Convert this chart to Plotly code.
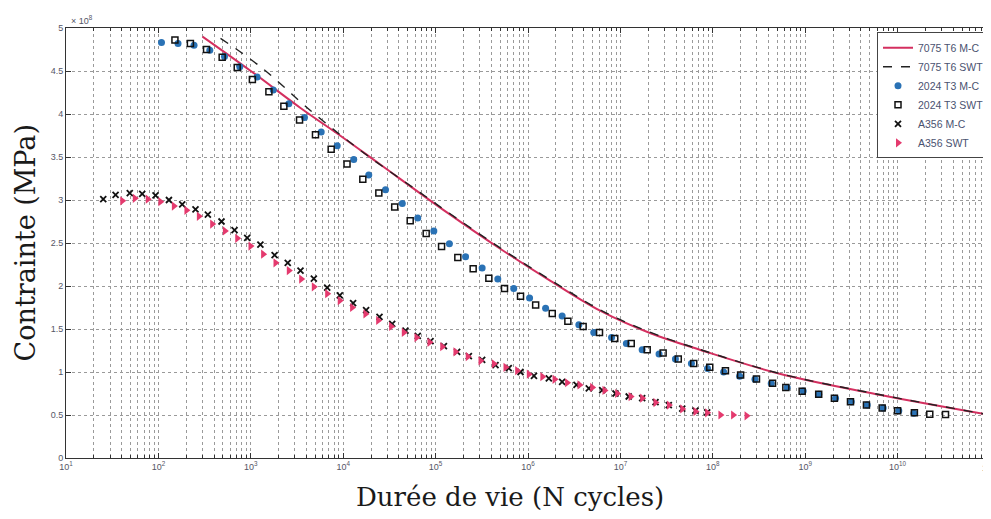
import plotly.graph_objects as go

# ---------------- data (stress in units of 1e8, N in cycles) ----------------
n_7075_mc = [3.0e2, 1.0e3, 3.45e3, 9.82e3, 2.54e4, 1.35e5, 5.05e5, 1.75e6, 6.10e6,
             2.12e7, 7.36e7, 5.41e8, 6.55e9, 1.0e11]
s_7075_mc = [4.90, 4.50, 4.07, 3.73, 3.41, 2.85, 2.43, 2.06, 1.71,
             1.45, 1.256, 0.977, 0.733, 0.50]

n_7075_swt = [4.70e2, 1.27e3, 4.78e3, 1.66e4, 5.77e4, 1.35e5, 5.05e5, 1.75e6, 6.10e6,
              2.12e7, 7.36e7, 5.41e8, 6.55e9, 1.0e11]
s_7075_swt = [4.88, 4.55, 4.01, 3.55, 3.14, 2.86, 2.44, 2.07, 1.72,
              1.46, 1.26, 0.98, 0.735, 0.50]

n_2024_mc = [1.08e2, 1.63e2, 2.43e2, 3.60e2, 5.19e2, 7.60e2, 1.17e3, 1.75e3, 2.58e3, 3.81e3,
             5.78e3, 8.61e3, 1.30e4, 1.89e4, 2.87e4, 4.36e4, 6.41e4, 9.57e4, 1.41e5, 2.11e5,
             3.19e5, 4.71e5, 7.01e5, 1.04e6, 1.55e6, 2.34e6, 3.55e6, 5.15e6, 8.02e6, 1.16e7,
             1.72e7, 2.62e7, 3.94e7, 5.87e7, 8.77e7, 1.31e8, 1.95e8, 2.86e8, 4.29e8, 6.38e8,
             9.51e8, 1.40e9, 2.13e9, 3.15e9, 4.69e9, 6.98e9, 1.03e10, 1.50e10]
s_2024_mc = [4.83, 4.82, 4.80, 4.74, 4.67, 4.55, 4.43, 4.28, 4.12, 3.96,
             3.79, 3.63, 3.47, 3.29, 3.12, 2.96, 2.79, 2.64, 2.49, 2.34,
             2.21, 2.08, 1.97, 1.86, 1.74, 1.65, 1.55, 1.46, 1.40, 1.33,
             1.26, 1.21, 1.15, 1.10, 1.04, 1.00, 0.95, 0.915, 0.865, 0.82,
             0.78, 0.74, 0.695, 0.655, 0.615, 0.58, 0.55, 0.52]

n_2024_swt = [1.51e2, 2.22e2, 3.32e2, 4.90e2, 7.13e2, 1.04e3, 1.57e3, 2.28e3, 3.37e3, 5.01e3,
              7.41e3, 1.10e4, 1.63e4, 2.43e4, 3.61e4, 5.31e4, 7.91e4, 1.16e5, 1.74e5, 2.55e5,
              3.77e5, 5.57e5, 8.30e5, 1.21e6, 1.83e6, 2.70e6, 3.95e6, 5.94e6, 8.69e6, 1.31e7,
              1.95e7, 2.90e7, 4.23e7, 6.22e7, 9.27e7, 1.37e8, 2.00e8, 2.97e8, 4.43e8, 6.17e8,
              9.27e8, 1.40e9, 2.07e9, 3.09e9, 4.60e9, 6.81e9, 1.00e10, 1.52e10, 2.23e10, 3.30e10]
s_2024_swt = [4.86, 4.82, 4.75, 4.66, 4.54, 4.40, 4.26, 4.09, 3.93, 3.76,
              3.59, 3.42, 3.24, 3.08, 2.92, 2.76, 2.61, 2.46, 2.33, 2.20,
              2.09, 1.97, 1.88, 1.78, 1.68, 1.59, 1.53, 1.46, 1.39, 1.33,
              1.26, 1.22, 1.15, 1.10, 1.055, 1.015, 0.965, 0.92, 0.87, 0.82,
              0.775, 0.74, 0.695, 0.655, 0.615, 0.58, 0.55, 0.525, 0.51, 0.505]

n_a356_mc = [2.53e1, 3.44e1, 4.90e1, 6.68e1, 9.31e1, 1.30e2, 1.81e2, 2.52e2, 3.43e2, 4.82e2,
             6.67e2, 9.14e2, 1.27e3, 1.81e3, 2.51e3, 3.45e3, 4.81e3, 6.71e3, 9.18e3, 1.28e4,
             1.77e4, 2.47e4, 3.39e4, 4.72e4, 6.41e4, 8.81e4, 1.23e5, 1.71e5, 2.29e5, 3.19e5,
             4.45e5, 6.19e5, 8.30e5, 1.16e6, 1.68e6, 2.34e6, 3.35e6, 4.55e6, 6.35e6, 8.85e6,
             1.23e7, 1.72e7, 2.40e7, 3.34e7, 4.67e7, 6.49e7, 8.69e7]
s_a356_mc = [3.01, 3.06, 3.08, 3.07, 3.055, 3.00, 2.95, 2.89, 2.83, 2.75,
             2.65, 2.56, 2.48, 2.36, 2.27, 2.18, 2.085, 1.98, 1.89, 1.80,
             1.72, 1.64, 1.56, 1.48, 1.42, 1.36, 1.30, 1.235, 1.185, 1.14,
             1.08, 1.045, 1.00, 0.955, 0.925, 0.885, 0.85, 0.81, 0.79, 0.75,
             0.715, 0.695, 0.65, 0.615, 0.575, 0.55, 0.53]

n_a356_swt = [4.06e1, 5.56e1, 7.67e1, 1.05e2, 1.47e2, 2.01e2, 2.74e2, 3.82e2, 5.24e2, 7.13e2,
              9.93e2, 1.36e3, 1.85e3, 2.58e3, 3.51e3, 4.81e3, 6.71e3, 9.18e3, 1.25e4, 1.74e4,
              2.39e4, 3.30e4, 4.53e4, 6.21e4, 8.59e4, 1.18e5, 1.64e5, 2.23e5, 3.06e5, 4.27e5,
              5.71e5, 7.64e5, 1.02e6, 1.43e6, 1.94e6, 2.65e6, 3.61e6, 4.95e6, 6.73e6, 9.23e6,
              1.29e7, 1.72e7, 2.40e7, 3.35e7, 4.67e7, 6.50e7, 8.69e7, 1.21e8, 1.66e8, 2.32e8]
s_a356_swt = [2.99, 3.02, 3.01, 2.98, 2.93, 2.88, 2.81, 2.72, 2.64, 2.555,
              2.465, 2.37, 2.27, 2.18, 2.08, 1.99, 1.91, 1.83, 1.75, 1.675,
              1.60, 1.53, 1.46, 1.40, 1.345, 1.295, 1.235, 1.18, 1.13, 1.095,
              1.055, 1.015, 0.975, 0.945, 0.915, 0.875, 0.85, 0.82, 0.785, 0.75,
              0.715, 0.695, 0.645, 0.615, 0.57, 0.54, 0.525, 0.50, 0.50, 0.49]

x_tick_vals = [1e1, 1e2, 1e3, 1e4, 1e5, 1e6, 1e7, 1e8, 1e9, 1e10, 1e11]
x_tick_text = ["10<sup>1</sup>", "10<sup>2</sup>", "10<sup>3</sup>", "10<sup>4</sup>",
               "10<sup>5</sup>", "10<sup>6</sup>", "10<sup>7</sup>", "10<sup>8</sup>",
               "10<sup>9</sup>", "10<sup>10</sup>", "10<sup>11</sup>"]
y_tick_vals = [0, 0.5, 1, 1.5, 2, 2.5, 3, 3.5, 4, 4.5, 5]
y_tick_text = ["0", "0.5", "1", "1.5", "2", "2.5", "3", "3.5", "4", "4.5", "5"]

# ---------------- figure ----------------
RED = "#d42f5f"
BLUE = "#2a72b5"
PINK = "#e43a6e"

fig = go.Figure()
fig.add_trace(go.Scatter(x=n_7075_mc, y=s_7075_mc, mode="lines", name="7075 T6 M-C",
                         line=dict(color=RED, width=2, shape="spline")))
fig.add_trace(go.Scatter(x=n_7075_swt, y=s_7075_swt, mode="lines", name="7075 T6 SWT",
                         line=dict(color="#222222", width=1.4, dash="dash", shape="spline")))
fig.add_trace(go.Scatter(x=n_2024_mc, y=s_2024_mc, mode="markers", name="2024 T3 M-C",
                         marker=dict(symbol="circle", size=7, color=BLUE)))
fig.add_trace(go.Scatter(x=n_2024_swt, y=s_2024_swt, mode="markers", name="2024 T3 SWT",
                         marker=dict(symbol="square-open", size=6, color="#111111",
                                     line=dict(width=1.5, color="#111111"))))
fig.add_trace(go.Scatter(x=n_a356_mc, y=s_a356_mc, mode="markers", name="A356 M-C",
                         marker=dict(symbol="x-thin-open", size=6, color="#111111",
                                     line=dict(width=1.8, color="#111111"))))
fig.add_trace(go.Scatter(x=n_a356_swt, y=s_a356_swt, mode="markers", name="A356 SWT",
                         marker=dict(symbol="triangle-right", size=8, color=PINK)))

grid_col = "#9a9a9a"
tick_font = dict(family="Liberation Sans", size=9, color="#556")
fig.update_xaxes(
    type="log", range=[1, 11],
    tickvals=x_tick_vals, ticktext=x_tick_text,
    ticks="inside", ticklen=5, tickcolor="#333",
    showline=True, linecolor="#333", linewidth=1, mirror="ticks",
    showgrid=True, gridcolor=grid_col, griddash="dot", gridwidth=1,
    tickfont=tick_font,
    minor=dict(dtick="D1", showgrid=True, gridcolor=grid_col, griddash="dot",
               gridwidth=1, ticks="inside", ticklen=3, tickcolor="#333"),
    zeroline=False,
)
fig.update_yaxes(
    range=[0, 5], tickvals=y_tick_vals, ticktext=y_tick_text,
    ticks="inside", ticklen=5, tickcolor="#333",
    showline=True, linecolor="#333", linewidth=1, mirror="ticks",
    showgrid=True, gridcolor=grid_col, griddash="dot", gridwidth=1,
    tickfont=tick_font,
    zeroline=False,
)

# page has an 8px body margin, so the figure is sized to fit the 991x519 window
fig.update_layout(
    width=983, height=511,
    margin=dict(l=58, r=1, t=20, b=61),
    paper_bgcolor="white", plot_bgcolor="white",
    showlegend=True,
    legend=dict(x=1.0, y=0.99, xanchor="right", yanchor="top",
                bgcolor="white", bordercolor="#444", borderwidth=1,
                font=dict(family="Liberation Sans", size=10.5, color="#4a5270"),
                tracegroupgap=0, itemwidth=30),
    annotations=[
        dict(text="× 10<sup>8</sup>", x=0.003, y=1.0, xref="paper", yref="paper",
             xanchor="left", yanchor="bottom", showarrow=False,
             font=dict(family="Liberation Sans", size=9, color="#556")),
        dict(text=x_tick_text[-1], x=1.0, y=0, xref="paper", yref="paper",
             xanchor="center", yanchor="top", yshift=-1, showarrow=False,
             font=tick_font),
        dict(text="Durée de vie (N cycles)", x=0.48, y=-0.052, xref="paper", yref="paper",
             xanchor="center", yanchor="top", showarrow=False,
             font=dict(family="DejaVu Serif", size=26, color="#1a1a1a")),
        dict(text="Contrainte (MPa)", x=-0.025, y=0.5, xref="paper", yref="paper",
             xanchor="right", yanchor="middle", textangle=-90, showarrow=False,
             font=dict(family="DejaVu Serif", size=27, color="#1a1a1a")),
    ],
)

fig.write_html("out.html")
